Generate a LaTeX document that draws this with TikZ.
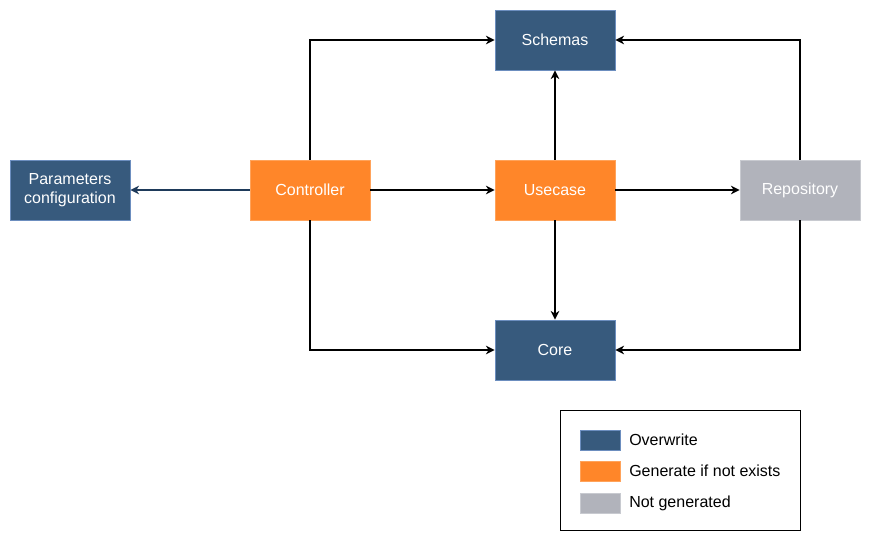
\documentclass[tikz,border=0pt]{standalone}
\usepackage{fontspec}
\setmainfont{Liberation Sans}
\usetikzlibrary{positioning,arrows.meta}
\definecolor{overblue}{HTML}{375A7D}
\definecolor{overedge}{HTML}{6C8EBF}
\definecolor{genorange}{HTML}{FF8629}
\definecolor{genedge}{HTML}{FFA35B}
\definecolor{notgray}{HTML}{B1B3BB}
\definecolor{notedge}{HTML}{C8CAD0}
\definecolor{linkblue}{HTML}{1E3A5A}
\begin{document}
\begin{tikzpicture}[x=0.75pt,y=-0.75pt,>={Stealth[length=6.5pt,width=6.5pt,inset=2pt]},line join=miter,every node/.style={font=\fontsize{12}{14.2}\selectfont},
		box/.style={minimum width=90pt,minimum height=45pt,inner sep=0pt,align=center,text=white,line width=0.6pt},
		overbox/.style={box,fill=overblue,draw=overedge},
		genbox/.style={box,fill=genorange,draw=genedge},
		notbox/.style={box,fill=notgray,draw=notedge},
		link/.style={->,line width=1.3pt},
		swatch/.style={minimum width=30pt,minimum height=15pt,inner sep=0pt,line width=0.6pt}]
	\useasboundingbox (0,0) rectangle (871,542);
	%% Khối chính
	\node[overbox] (params) at (70,190) {Parameters\\configuration};
	\node[genbox] (ctrl) at (310,190) {Controller};
	\node[genbox] (usecase) at (555,190) {Usecase};
	\node[notbox] (repo) at (800,190) {Repository};
	\node[overbox] (schemas) at (555,40) {Schemas};
	\node[overbox] (core) at (555,350) {Core};
	%% Mũi tên từ Controller
	\draw[link,draw=linkblue,fill=linkblue] (ctrl) -- (params);
	\draw[link] (ctrl) -- (usecase);
	\draw[link] (ctrl.north) |- (schemas);
	\draw[link] (ctrl.south) |- (core);
	%% Mũi tên từ Usecase
	\draw[link] (usecase) -- (schemas);
	\draw[link] (usecase) -- (core);
	\draw[link] (usecase) -- (repo);
	%% Mũi tên từ Repository
	\draw[link] (repo.north) |- (schemas);
	\draw[link] (repo.south) |- (core);
	%% Chú thích
	\node[draw=black,line width=0.75pt,minimum width=180pt,minimum height=90pt,inner sep=0pt] (legend) at (680,470) {};
	\node[swatch,fill=overblue,draw=overedge] (sw1) at (600,440) {};
	\node[swatch,fill=genorange,draw=genedge] (sw2) at (600,471) {};
	\node[swatch,fill=notgray,draw=notedge] (sw3) at (600,503) {};
	\node[anchor=west,inner sep=0pt] (lab1) at (629,440) {Overwrite};
	\node[anchor=west,inner sep=0pt] (lab2) at (629,471) {Generate if not exists};
	\node[anchor=west,inner sep=0pt] (lab3) at (629,503) {Not generated};
\end{tikzpicture}
\end{document}
